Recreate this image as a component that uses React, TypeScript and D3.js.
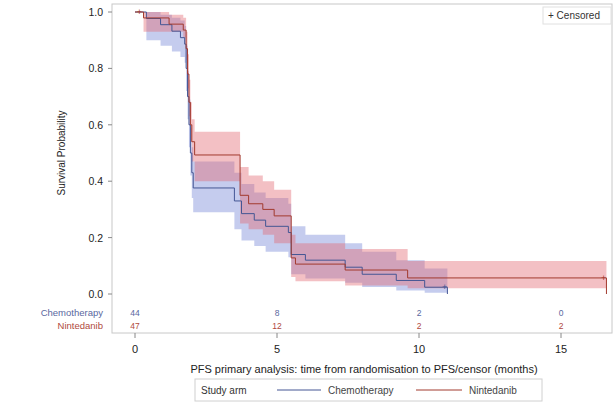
import React from "react";
import * as d3 from "d3";

const yTicks = [0, 0.2, 0.4, 0.6, 0.8, 1.0];
const xTicks = [0, 5, 10, 15];

const chemoTime = [0, 0.4, 0.9, 1.3, 1.6, 1.75, 1.8, 1.85, 1.9, 1.95, 2.0, 2.05, 3.5, 3.75, 4.2, 4.6, 5.4, 5.5, 6.0, 7.4, 8.0, 9.2, 10.2, 11.0];
const chemoSurv = [1, 0.977, 0.955, 0.932, 0.909, 0.886, 0.8, 0.7, 0.6, 0.5, 0.43, 0.376, 0.33, 0.285, 0.262, 0.24, 0.218, 0.14, 0.12, 0.095, 0.07, 0.048, 0.024, 0];
const chemoLower = [1, 0.9, 0.88, 0.86, 0.84, 0.82, 0.72, 0.62, 0.52, 0.42, 0.34, 0.29, 0.23, 0.19, 0.17, 0.15, 0.13, 0.07, 0.055, 0.04, 0.025, 0.012, 0.004, 0];
const chemoUpper = [1, 1.0, 0.99, 0.98, 0.97, 0.95, 0.88, 0.79, 0.69, 0.59, 0.52, 0.47, 0.43, 0.39, 0.36, 0.34, 0.32, 0.24, 0.21, 0.18, 0.15, 0.12, 0.09, 0];

const nintTime = [0, 0.3, 1.2, 1.7, 1.8, 1.85, 1.9, 1.95, 2.0, 2.1, 3.7, 4.0, 4.5, 4.9, 5.5, 5.65, 7.4, 9.6, 16.6];
const nintSurv = [1, 0.979, 0.957, 0.936, 0.87, 0.78, 0.68, 0.6, 0.54, 0.493, 0.35, 0.32, 0.3, 0.277, 0.128, 0.106, 0.085, 0.057, 0];
const nintLower = [1, 0.93, 0.93, 0.91, 0.83, 0.73, 0.63, 0.54, 0.47, 0.4, 0.25, 0.23, 0.21, 0.18, 0.06, 0.045, 0.03, 0.02, 0];
const nintUpper = [1, 1.0, 0.99, 0.98, 0.93, 0.85, 0.76, 0.68, 0.62, 0.575, 0.45, 0.42, 0.4, 0.37, 0.21, 0.18, 0.16, 0.117, 0];

const censorChemo = [[10.9, 0.024]];
const censorNint = [[0.15, 1.0], [16.5, 0.057]];

const atRiskTimes = [0, 5, 10, 15];
const atRiskChemo = [44, 8, 2, 0];
const atRiskNint = [47, 12, 2, 2];

const BLUE = "#445694";
const RED = "#A23A2E";
const FONT = "'Liberation Sans', Arial, sans-serif";

export default function App() {
  const x = d3.scaleLinear().domain([0, 15]).range([135, 561]);
  const y = d3.scaleLinear().domain([0, 1]).range([294, 12]);

  const mk = (t: number[], s: number[], lo: number[], hi: number[]) => {
    const rows = t.map((tt, i) => ({ t: tt, s: s[i], lo: lo[i], hi: hi[i] }));
    const line = d3.line<any>().x((d) => x(d.t)).y((d) => y(d.s)).curve(d3.curveStepAfter)(rows) || "";
    const band = d3.area<any>().x((d) => x(d.t)).y0((d) => y(d.lo)).y1((d) => y(d.hi)).curve(d3.curveStepAfter)(rows) || "";
    return { line, band };
  };
  const chemo = mk(chemoTime, chemoSurv, chemoLower, chemoUpper);
  const nint = mk(nintTime, nintSurv, nintLower, nintUpper);

  const left = 112, right = 612, top = 4, bottom = 333;

  return (
    <svg width={614} height={408} style={{ position: "absolute", left: 0, top: 0, fontFamily: FONT }}>
      <rect x={0} y={0} width={614} height={408} fill="#fff" />
      <rect x={left} y={top} width={right - left} height={bottom - top} fill="none" stroke="#c8c8c8" strokeWidth={1} />
      <path d={chemo.band} fill="#7585d6" fillOpacity={0.42} stroke="none" />
      <path d={nint.band} fill="#e36a72" fillOpacity={0.42} stroke="none" />
      <path d={chemo.line} fill="none" stroke={BLUE} strokeWidth={1} />
      <path d={nint.line} fill="none" stroke={RED} strokeWidth={1} />
      {censorChemo.map((c, i) => (
        <text key={"cc" + i} x={x(c[0])} y={y(c[1]) + 3} fontSize={9} textAnchor="middle" fill={BLUE}>+</text>
      ))}
      {censorNint.map((c, i) => (
        <text key={"cn" + i} x={x(c[0])} y={y(c[1]) + 3} fontSize={9} textAnchor="middle" fill={RED}>+</text>
      ))}
      {yTicks.map((v) => (
        <g key={v}>
          <line x1={left - 4} x2={left} y1={y(v)} y2={y(v)} stroke="#888" />
          <text x={left - 9} y={y(v) + 4} fontSize={10.5} textAnchor="end" fill="#222">{v.toFixed(1)}</text>
        </g>
      ))}
      <text transform={`translate(65,${y(0.5)}) rotate(-90)`} fontSize={10} textAnchor="middle" fill="#222">Survival Probability</text>
      {xTicks.map((v) => (
        <g key={v}>
          <line x1={x(v)} x2={x(v)} y1={bottom} y2={bottom + 5} stroke="#888" />
          <text x={x(v)} y={bottom + 20} fontSize={11} textAnchor="middle" fill="#222">{v}</text>
        </g>
      ))}
      <text x={364} y={373} fontSize={11} textAnchor="middle" fill="#222">PFS primary analysis: time from randomisation to PFS/censor (months)</text>
      <text x={103} y={316} fontSize={9.5} textAnchor="end" fill="#5a68a0">Chemotherapy</text>
      <text x={103} y={329} fontSize={9.5} textAnchor="end" fill="#b04a40">Nintedanib</text>
      {atRiskTimes.map((t, i) => (
        <g key={t}>
          <text x={x(t)} y={316} fontSize={8.5} textAnchor="middle" fill="#5a68a0">{atRiskChemo[i]}</text>
          <text x={x(t)} y={329} fontSize={8.5} textAnchor="middle" fill="#b04a40">{atRiskNint[i]}</text>
        </g>
      ))}
      <rect x={543} y={7} width={68} height={17} fill="#fff" stroke="#e0e0e0" />
      <text x={548} y={19} fontSize={10} fill="#333">+ Censored</text>
      <rect x={195} y={379} width={347} height={22} fill="#fff" stroke="#d0d0d0" />
      <text x={201} y={394} fontSize={10} fill="#333">Study arm</text>
      <line x1={277} x2={321} y1={390} y2={390} stroke={BLUE} strokeWidth={1} />
      <text x={328} y={394} fontSize={10} fill="#444">Chemotherapy</text>
      <line x1={416} x2={462} y1={390} y2={390} stroke={RED} strokeWidth={1} />
      <text x={469} y={394} fontSize={10} fill="#444">Nintedanib</text>
    </svg>
  );
}
